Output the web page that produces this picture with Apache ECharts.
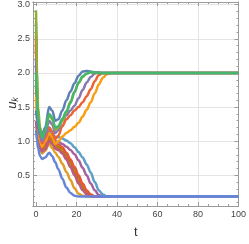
<!DOCTYPE html>
<html>
<head>
<meta charset="utf-8">
<script src="https://cdn.jsdelivr.net/npm/echarts@6/dist/echarts.min.js"></script>
<style>
html,body{margin:0;padding:0;background:#fff;}
#c{width:249px;height:244px;}
</style>
</head>
<body>
<div id="c"></div>
<script>
// time samples shared by all curves
var T = [0, 0.5, 1, 2, 3, 4.5, 6.5, 8, 9.5, 11, 13, 15, 17, 19, 21, 23, 25, 27, 29, 31, 33, 35, 37, 40, 45, 100];

// curves converging to the lower state
var lowBlue    = [1.16, 1.0, 0.9, 0.78, 0.74, 0.76, 0.83, 0.78, 0.69, 0.59, 0.45, 0.32, 0.24, 0.2, 0.19, 0.19, 0.19, 0.19, 0.19, 0.19, 0.19, 0.19, 0.19, 0.19, 0.19, 0.19];
var lowOrange  = [1.8, 1.3, 1.05, 0.88, 0.82, 0.86, 0.96, 0.9, 0.83, 0.77, 0.67, 0.55, 0.43, 0.31, 0.23, 0.2, 0.19, 0.19, 0.19, 0.19, 0.19, 0.19, 0.19, 0.19, 0.19, 0.19];
var lowGold    = [2.6, 1.7, 1.2, 0.95, 0.88, 0.92, 1.05, 1.0, 0.93, 0.91, 0.86, 0.77, 0.67, 0.56, 0.44, 0.32, 0.24, 0.2, 0.19, 0.19, 0.19, 0.19, 0.19, 0.19, 0.19, 0.19];
var lowOlive   = [2.4, 1.6, 1.2, 0.96, 0.9, 0.94, 1.07, 1.02, 0.95, 0.93, 0.89, 0.8, 0.7, 0.59, 0.47, 0.35, 0.26, 0.21, 0.19, 0.19, 0.19, 0.19, 0.19, 0.19, 0.19, 0.19];
var lowRed     = [2.55, 1.7, 1.25, 0.98, 0.92, 0.96, 1.1, 1.04, 0.97, 0.95, 0.91, 0.83, 0.73, 0.62, 0.5, 0.38, 0.28, 0.22, 0.19, 0.19, 0.19, 0.19, 0.19, 0.19, 0.19, 0.19];
var lowBrown   = [2.1, 1.5, 1.15, 0.93, 0.87, 0.9, 1.02, 0.98, 0.91, 0.89, 0.84, 0.75, 0.64, 0.53, 0.41, 0.3, 0.23, 0.2, 0.19, 0.19, 0.19, 0.19, 0.19, 0.19, 0.19, 0.19];
var lowPink    = [1.3, 1.1, 1.0, 0.9, 0.85, 0.88, 1.0, 0.96, 0.89, 0.87, 0.82, 0.73, 0.62, 0.5, 0.38, 0.28, 0.22, 0.19, 0.19, 0.19, 0.19, 0.19, 0.19, 0.19, 0.19, 0.19];
var lowMagenta = [2.35, 1.6, 1.25, 1.0, 0.95, 1.0, 1.15, 1.08, 1.0, 0.99, 0.96, 0.92, 0.87, 0.81, 0.72, 0.61, 0.5, 0.38, 0.28, 0.21, 0.19, 0.19, 0.19, 0.19, 0.19, 0.19];
var lowSky     = [2.75, 1.8, 1.35, 1.05, 1.0, 1.05, 1.2, 1.12, 1.06, 1.06, 1.04, 1.01, 0.97, 0.91, 0.84, 0.76, 0.66, 0.54, 0.4, 0.28, 0.22, 0.19, 0.19, 0.19, 0.19, 0.19];

// curves converging to the upper state
var upBlue     = [1.45, 1.3, 1.2, 1.1, 1.07, 1.2, 1.5, 1.45, 1.3, 1.32, 1.45, 1.6, 1.73, 1.85, 1.96, 2.02, 2.03, 2.02, 2.01, 2.0, 2.0, 2.0, 2.0, 2.0, 2.0, 2.0];
var upYGreen   = [2.92, 2.0, 1.5, 1.2, 1.1, 1.18, 1.38, 1.32, 1.17, 1.2, 1.3, 1.42, 1.58, 1.72, 1.85, 1.94, 1.99, 2.01, 2.0, 2.0, 2.0, 2.0, 2.0, 2.0, 2.0, 2.0];
var upPurple   = [2.2, 1.6, 1.3, 1.1, 1.0, 1.1, 1.3, 1.24, 1.12, 1.16, 1.3, 1.38, 1.45, 1.52, 1.63, 1.75, 1.86, 1.94, 1.99, 2.01, 2.0, 2.0, 2.0, 2.0, 2.0, 2.0];
var upRed      = [2.5, 1.7, 1.3, 1.05, 0.97, 1.05, 1.2, 1.14, 1.03, 1.08, 1.22, 1.32, 1.38, 1.45, 1.5, 1.57, 1.66, 1.76, 1.88, 1.97, 2.0, 2.0, 2.0, 2.0, 2.0, 2.0];
var upOrange   = [1.65, 1.4, 1.2, 1.0, 0.92, 1.0, 1.12, 1.06, 0.96, 1.0, 1.07, 1.12, 1.16, 1.21, 1.27, 1.36, 1.46, 1.57, 1.7, 1.83, 1.93, 1.98, 2.0, 2.0, 2.0, 2.0];
var upGreen    = [2.0, 1.6, 1.35, 1.15, 1.05, 1.15, 1.4, 1.35, 1.2, 1.22, 1.33, 1.44, 1.56, 1.72, 1.86, 1.95, 1.99, 2.01, 2.01, 2.0, 2.0, 2.0, 2.0, 2.0, 2.0, 2.0];

// tick labels
var xMajor = [0, 20, 40, 60, 80, 100];
var xGrid  = [20, 40, 60, 80];
var xMinor = [5, 10, 15, 25, 30, 35, 45, 50, 55, 65, 70, 75, 85, 90, 95];
var yMajor = [0.5, 1.0, 1.5, 2.0, 2.5, 3.0];
var yMinor = [0.1, 0.2, 0.3, 0.4, 0.6, 0.7, 0.8, 0.9, 1.1, 1.2, 1.3, 1.4, 1.6, 1.7, 1.8, 1.9, 2.1, 2.2, 2.3, 2.4, 2.6, 2.7, 2.8, 2.9];

var curves = [
  [lowOrange, '#E19C24'], [lowGold, '#FFBF00'], [lowOlive, '#929600'], [lowBrown, '#C56E1A'],
  [lowRed, '#E95536'], [lowPink, '#BC5B80'], [lowMagenta, '#A5609D'], [lowSky, '#5D9EC7'],
  [lowBlue, '#6685D9'],
  [upOrange, '#F89F13'], [upRed, '#EB6235'], [upPurple, '#8778B3'], [upYGreen, '#8FB032'],
  [upBlue, '#5E81B5'], [upGreen, '#47B66D']
];

var FONT = 'Liberation Sans, Arial, sans-serif';
var frameColor = '#9a9a9a';
var XMIN = -1.5, XMAX = 100, YMIN = 0.05, YMAX = 3.04;

function xAx(pos, ticks, len, opts) {
  return Object.assign({
    type: 'value', min: XMIN, max: XMAX, position: pos,
    axisLine: { show: true, onZero: false, lineStyle: { color: frameColor, width: 1 } },
    axisTick: { show: true, inside: true, length: len, customValues: ticks, lineStyle: { color: frameColor } },
    axisLabel: { show: false },
    splitLine: { show: false }
  }, opts || {});
}
function yAx(pos, ticks, len, opts) {
  return Object.assign({
    type: 'value', min: YMIN, max: YMAX, position: pos,
    axisLine: { show: true, onZero: false, lineStyle: { color: frameColor, width: 1 } },
    axisTick: { show: true, inside: true, length: len, customValues: ticks, lineStyle: { color: frameColor } },
    axisLabel: { show: false },
    splitLine: { show: false }
  }, opts || {});
}

var option = {
  animation: false,
  backgroundColor: '#ffffff',
  grid: { left: 33, right: 8, top: 2, bottom: 30, containLabel: false },
  xAxis: [
    xAx('bottom', xMajor, 4, {
      axisLabel: { show: true, customValues: xMajor, fontSize: 9, color: '#444', fontFamily: FONT, margin: 4 },
      name: 't', nameLocation: 'middle', nameGap: 20,
      nameTextStyle: { fontSize: 13, color: '#333', fontFamily: FONT }
    }),
    xAx('bottom', xMinor, 2),
    xAx('top', xMajor, 4),
    xAx('top', xMinor, 2),
    xAx('bottom', xGrid, 0, { axisLine: { show: false }, axisTick: { show: false, customValues: xGrid },
      splitLine: { show: true, lineStyle: { color: '#e4e4e4', width: 1 } } })
  ],
  yAxis: [
    yAx('left', yMajor, 4, {
      axisLabel: { show: true, customValues: yMajor, fontSize: 9, color: '#444', fontFamily: FONT, margin: 3,
        formatter: function (v) { return v.toFixed(1); } },
      splitLine: { show: true, lineStyle: { color: '#e4e4e4', width: 1 } }
    }),
    yAx('left', yMinor, 2),
    yAx('right', yMajor, 4),
    yAx('right', yMinor, 2)
  ],
  graphic: [{
    type: 'text', x: 12, y: 103, rotation: Math.PI / 2,
    style: {
      text: '{u|u}{k|k}',
      align: 'center', verticalAlign: 'middle',
      rich: {
        u: { fontSize: 13, fontStyle: 'italic', fontFamily: FONT, fill: '#333', verticalAlign: 'middle' },
        k: { fontSize: 9, fontStyle: 'italic', fontFamily: FONT, fill: '#333', padding: [6, 0, 0, 0], verticalAlign: 'bottom' }
      }
    }
  }],
  series: curves.map(function (c, i) {
    return {
      type: 'line', xAxisIndex: 0, yAxisIndex: 0,
      data: T.map(function (t, j) { return [t, c[0][j]]; }),
      showSymbol: false, symbol: 'none',
      smooth: 0.35, smoothMonotone: 'x',
      lineStyle: { color: c[1], width: 2.5 },
      itemStyle: { color: c[1] },
      z: 2 + i
    };
  })
};

var chart = echarts.init(document.getElementById('c'), null, { renderer: 'canvas' });
chart.setOption(option);
</script>
</body>
</html>
